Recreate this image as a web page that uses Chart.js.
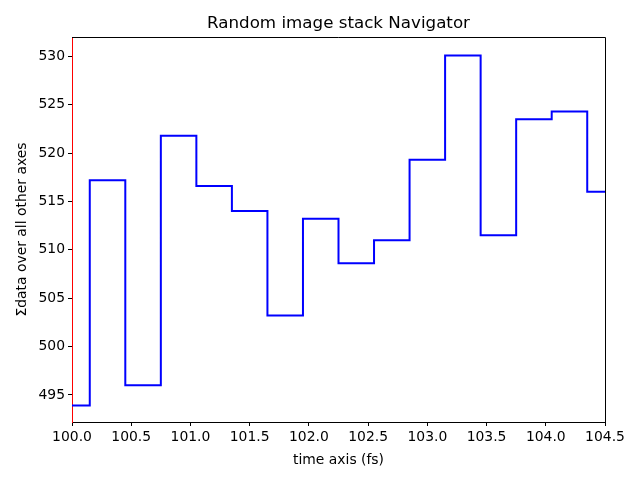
<!DOCTYPE html>
<html>
<head>
<meta charset="utf-8">
<script src="https://cdn.jsdelivr.net/npm/chart.js@4"></script>
<style>
html,body{margin:0;padding:0;background:#fff;}
#wrap{width:640px;height:480px;}
</style>
</head>
<body>
<div id="wrap"><canvas id="c" width="640" height="480"></canvas></div>
<script>
const timeAxis = [100.0,100.3,100.6,100.9,101.2,101.5,101.8,102.1,102.4,102.7,103.0,103.3,103.6,103.9,104.2,104.5];
const sumValues = [493.9,517.2,496.0,521.8,516.6,514.0,503.2,513.2,508.6,511.0,519.3,530.1,511.5,523.5,524.3,516.0];
const xTickValues = [100.0,100.5,101.0,101.5,102.0,102.5,103.0,103.5,104.0,104.5];
const yTickValues = [495,500,505,510,515,520,525,530];
const chartTitle = 'Random image stack Navigator';

const FONT = 'DejaVu Sans';
Chart.defaults.font.family = FONT;
Chart.defaults.color = '#000';

const framePlugin = {
  id: 'frame',
  afterDraw(chart) {
    const a = chart.chartArea, ctx = chart.ctx;
    ctx.save();
    ctx.strokeStyle = '#000';
    ctx.lineWidth = 1;
    ctx.beginPath();
    ctx.moveTo(a.left, a.top + 0.5);
    ctx.lineTo(a.right + 0.5, a.top + 0.5);
    ctx.lineTo(a.right + 0.5, a.bottom);
    ctx.stroke();
    ctx.fillStyle = '#000';
    ctx.font = '16.7px "' + FONT + '"';
    ctx.textAlign = 'center';
    ctx.textBaseline = 'middle';
    ctx.fillText(chartTitle, (a.left + a.right) / 2, a.top - 13.5);
    ctx.restore();
  }
};

new Chart(document.getElementById('c'), {
  type: 'line',
  data: {
    datasets: [{
      data: timeAxis.map((x, i) => ({x: x, y: sumValues[i]})),
      borderColor: '#0000ff',
      borderWidth: 2,
      pointRadius: 0,
      stepped: 'middle',
      fill: false
    }]
  },
  options: {
    responsive: false,
    animation: false,
    devicePixelRatio: 1,
    layout: {padding: {left: 0, right: 35, top: 37, bottom: 11}},
    plugins: {
      legend: {display: false},
      tooltip: {enabled: false},
      title: {display: false}
    },
    scales: {
      x: {
        type: 'linear',
        min: 100,
        max: 104.5,
        afterBuildTicks(scale) { scale.ticks = xTickValues.map(v => ({value: v})); },
        afterFit(scale) { scale.height = 47; },
        ticks: {
          font: {size: 13.9},
          color: '#000',
          padding: 3,
          maxRotation: 0,
          autoSkip: false,
          callback: v => Number(v).toFixed(1)
        },
        grid: {drawOnChartArea: false, drawTicks: true, tickLength: 4, color: '#000'},
        border: {display: true, color: '#000', width: 1},
        title: {display: true, text: 'time axis (fs)', font: {size: 13.9}, color: '#000', padding: {top: 4, bottom: 0}}
      },
      y: {
        type: 'linear',
        min: 492.2,
        max: 532,
        afterBuildTicks(scale) { scale.ticks = yTickValues.map(v => ({value: v})); },
        afterFit(scale) { scale.width = 72; },
        ticks: {
          font: {size: 13.9},
          color: '#000',
          padding: 3,
          autoSkip: false,
          callback: v => String(v)
        },
        grid: {drawOnChartArea: false, drawTicks: true, tickLength: 4, color: '#000'},
        border: {display: true, color: '#ff0000', width: 1},
        title: {display: true, text: 'Σdata over all other axes', font: {size: 13.9}, color: '#000', padding: {top: 14, bottom: 0}}
      }
    }
  },
  plugins: [framePlugin]
});
</script>
</body>
</html>
